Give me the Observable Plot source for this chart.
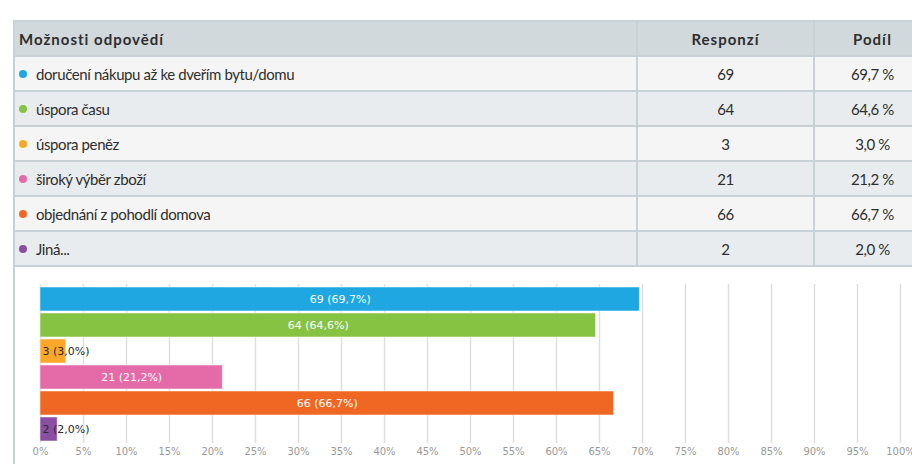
<!DOCTYPE html>
<html>
<head>
<meta charset="utf-8">
<script src="https://cdn.jsdelivr.net/npm/d3@7"></script>
<script src="https://cdn.jsdelivr.net/npm/@observablehq/plot@0.6"></script>
<style>
  html, body { margin: 0; padding: 0; background: #fff; }
  body { width: 912px; height: 464px; position: relative; overflow: hidden; }
  #tbl { position: absolute; left: 13px; top: 20px; width: 920px; border-left: 2px solid #c8d2d6; font-family: Lato, "Open Sans", sans-serif; color: #2e2e2e; }
  .row { display: flex; box-sizing: border-box; height: 35px; border-bottom: 2px solid #c8d2d6; align-items: stretch; }
  .row.head { height: 37px; border-top: 2px solid #c8d2d6; background: #d1d9dd; font-weight: bold; letter-spacing: 1px; }
  .row.odd { background: #f5f5f5; }
  .row.even { background: #e9ecee; }
  .cell { box-sizing: border-box; display: flex; align-items: center; font-size: 15px; letter-spacing: -0.4px; }
  .row.head .cell { font-size: 15px; letter-spacing: 1px; }
  .c1 { width: 623px; border-right: 2px solid #c8d2d6; padding-left: 4px; }
  .c2 { width: 177px; border-right: 2px solid #c8d2d6; justify-content: center; }
  .c3 { width: 115px; justify-content: center; }
  .dot { width: 8px; height: 8px; border-radius: 50%; display: inline-block; margin-right: 9px; }
  #chart { position: absolute; left: 13px; top: 267px; width: 899px; height: 197px; border-left: 2px solid #c8d2d6; }
  #chart svg { display: block; }
</style>
</head>
<body>
<div id="tbl"></div>
<div id="chart"></div>
<script>
const categories = [
  "doručení nákupu až ke dveřím bytu/domu",
  "úspora času",
  "úspora peněz",
  "široký výběr zboží",
  "objednání z pohodlí domova",
  "Jiná..."
];
const responses = [69, 64, 3, 21, 66, 2];
const shares = [69.7, 64.6, 3.0, 21.2, 66.7, 2.0];
const colors = ["#1ea7e0", "#86c342", "#fba82a", "#e56aa8", "#f06623", "#8c4ea3"];
const headers = ["Možnosti odpovědí", "Responzí", "Podíl"];
const xTicks = d3.range(0, 101, 5);

const fmt = v => v.toFixed(1).replace(".", ",");
const data = categories.map((c, i) => ({
  c, r: responses[i], s: shares[i], color: colors[i],
  label: `${responses[i]} (${fmt(shares[i])}%)`
}));

// Table
const tbl = d3.select("#tbl");
const head = tbl.append("div").attr("class", "row head");
head.append("div").attr("class", "cell c1").text(headers[0]);
head.append("div").attr("class", "cell c2").text(headers[1]);
head.append("div").attr("class", "cell c3").text(headers[2]);
data.forEach((d, i) => {
  const row = tbl.append("div").attr("class", "row " + (i % 2 === 0 ? "odd" : "even"));
  const c1 = row.append("div").attr("class", "cell c1");
  c1.append("span").attr("class", "dot").style("background", d.color);
  c1.append("span").text(d.c);
  row.append("div").attr("class", "cell c2").text(d.r);
  row.append("div").attr("class", "cell c3").text(fmt(d.s) + " %");
});

// Chart
const chart = Plot.plot({
  width: 897,
  height: 197,
  marginLeft: 25,
  marginRight: 12,
  marginTop: 17,
  marginBottom: 21,
  style: { fontFamily: "DejaVu Sans", fontSize: "10px", color: "#999", background: "#fff" },
  x: { domain: [0, 100], ticks: xTicks, tickFormat: d => d + "%", tickSize: 0, tickPadding: 4, label: null },
  y: { domain: categories, padding: 0.08, axis: null },
  color: { type: "identity" },
  marks: [
    Plot.ruleX(xTicks, { stroke: "#dedede", strokeWidth: 1.5 }),
    Plot.barX(data, { x: "s", y: "c", fill: "color", stroke: "#fff", strokeOpacity: 0.5, strokeWidth: 1 }),
    Plot.text(data.filter(d => d.s >= 10), { x: d => d.s / 2, y: "c", text: "label", fill: "#fff", fontSize: 11 }),
    Plot.text(data.filter(d => d.s < 10), { x: 0, y: "c", text: "label", textAnchor: "start", dx: 2, fill: "#2a2a2a", fontSize: 11 })
  ]
});
document.getElementById("chart").appendChild(chart);
</script>
</body>
</html>
